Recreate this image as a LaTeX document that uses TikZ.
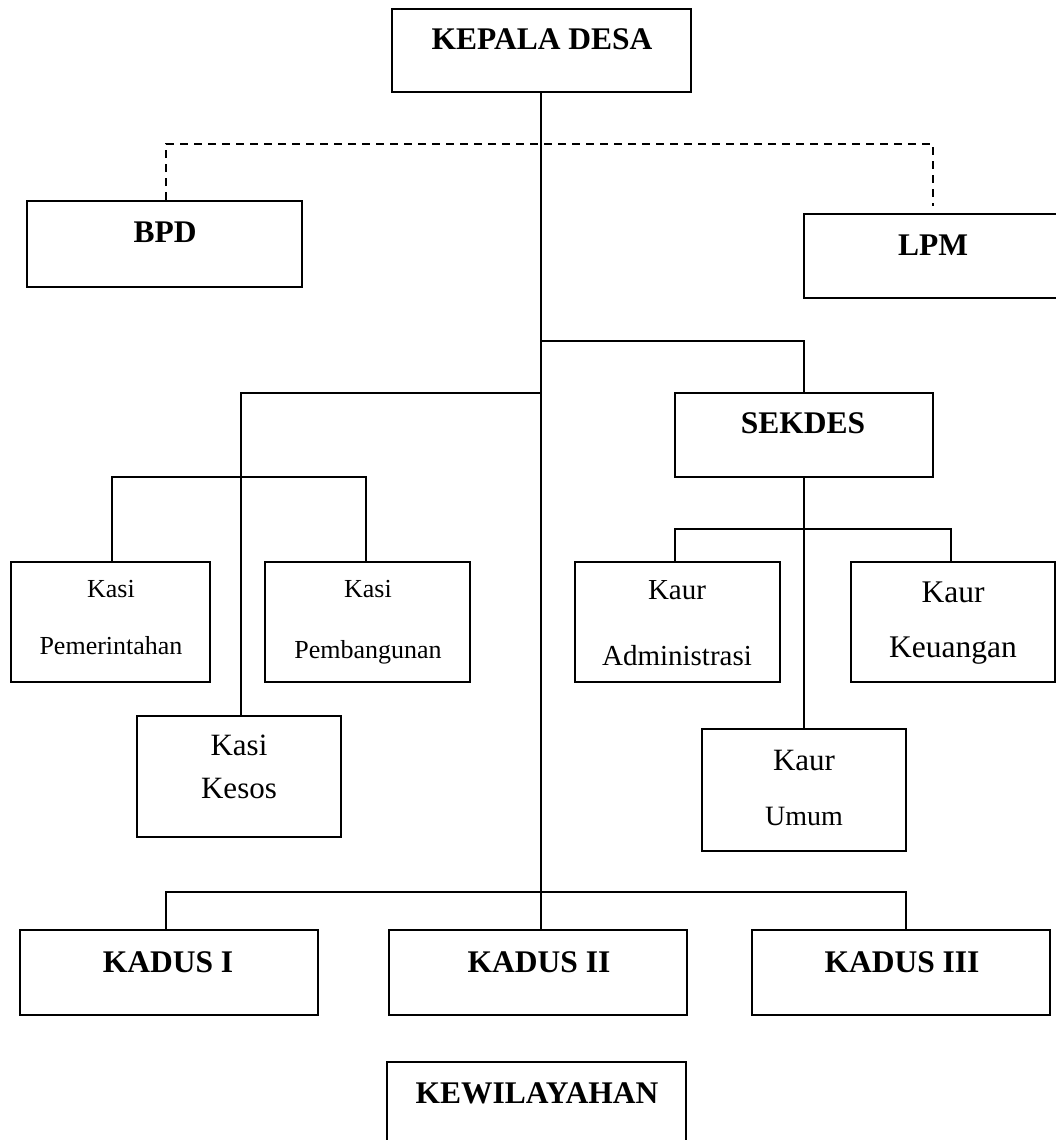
\documentclass[tikz,border=0pt]{standalone}
\usepackage{fontspec}
\setmainfont{Liberation Serif}
\begin{document}
\begin{tikzpicture}[x=1pt,y=-1pt,
  box/.style={draw=black,line width=2pt,rectangle,inner sep=0pt,fill=none},
  conn/.style={draw=black,line width=1.8pt},
  dashline/.style={draw=black,line width=1.8pt,dash pattern=on 8pt off 6pt},
  ttl/.style={anchor=base,inner sep=0pt,font=\fontsize{31.5}{36}\selectfont\bfseries},
  txt/.style={anchor=base,inner sep=0pt}]
\useasboundingbox (0,0) rectangle (1056,1140);
% boxes
\node[box,minimum width=299pt,minimum height=83pt] (kd) at (541,50.5) {};
\node[box,minimum width=275pt,minimum height=86pt] (bpd) at (164.5,244) {};
\node[box,minimum width=258pt,minimum height=84pt] (lpm) at (933,256) {};
\node[box,minimum width=258pt,minimum height=84pt] (sek) at (804,435) {};
\node[box,minimum width=199pt,minimum height=120pt] (kp) at (110.5,622) {};
\node[box,minimum width=205pt,minimum height=120pt] (kb) at (367.5,622) {};
\node[box,minimum width=204pt,minimum height=121pt] (kk) at (239,776.5) {};
\node[box,minimum width=205pt,minimum height=120pt] (ka) at (677.5,622) {};
\node[box,minimum width=204pt,minimum height=120pt] (ku) at (953,622) {};
\node[box,minimum width=204pt,minimum height=122pt] (kum) at (804,790) {};
\node[box,minimum width=298pt,minimum height=85pt] (k1) at (169,972.5) {};
\node[box,minimum width=298pt,minimum height=85pt] (k2) at (538,972.5) {};
\node[box,minimum width=298pt,minimum height=85pt] (k3) at (901,972.5) {};
\node[box,minimum width=299pt,minimum height=98pt] (kw) at (536.5,1111) {};
% texts
\node[ttl] (tkd) at (542,49) {KEPALA DESA};
\node[ttl] (tbpd) at (165,242) {BPD};
\node[ttl] (tlpm) at (933,255) {LPM};
\node[ttl] (tsek) at (803,433) {SEKDES};
\node[txt,font=\fontsize{26}{30}\selectfont] (tkp1) at (111,597) {Kasi};
\node[txt,font=\fontsize{26}{30}\selectfont] (tkp2) at (111,654) {Pemerintahan};
\node[txt,font=\fontsize{26}{30}\selectfont] (tkb1) at (368,597) {Kasi};
\node[txt,font=\fontsize{26}{30}\selectfont] (tkb2) at (368,658) {Pembangunan};
\node[txt,font=\fontsize{31}{36}\selectfont] (tkk1) at (239,755) {Kasi};
\node[txt,font=\fontsize{31}{36}\selectfont] (tkk2) at (239,798) {Kesos};
\node[txt,font=\fontsize{29}{34}\selectfont] (tka1) at (677,599) {Kaur};
\node[txt,font=\fontsize{29}{34}\selectfont] (tka2) at (677,665) {Administrasi};
\node[txt,font=\fontsize{31.5}{36}\selectfont] (tku1) at (953,602) {Kaur};
\node[txt,font=\fontsize{31.5}{36}\selectfont] (tku2) at (953,657) {Keuangan};
\node[txt,font=\fontsize{31}{36}\selectfont] (tkum1) at (804,770) {Kaur};
\node[txt,font=\fontsize{28}{32}\selectfont] (tkum2) at (804,825) {Umum};
\node[ttl] (tk1) at (168,972) {KADUS I};
\node[ttl] (tk2) at (539,972) {KADUS II};
\node[ttl] (tk3) at (902,972) {KADUS III};
\node[ttl] (tkw) at (537,1103) {KEWILAYAHAN};
% junction coordinates
\coordinate (jdash) at (541,144);
\coordinate (jsek) at (541,341);
\coordinate (jleft) at (541,393);
\coordinate (jkasi) at (241,477);
\coordinate (jkaur) at (804,529);
\coordinate (jkadus) at (541,892);
% connectors
\draw[conn] (kd.south) -- (kd.south |- k2.north);
\draw[dashline] ([xshift=1.5pt]bpd.north) |- (jdash) -| ([yshift=7pt]lpm.north);
\draw[conn] (jsek) -| (sek.north);
\draw[conn] (jleft) -| ([xshift=2pt]kk.north);
\draw[conn] ([xshift=1.5pt]kp.north) |- (jkasi) -| ([xshift=-1.5pt]kb.north);
\draw[conn] (sek.south) -- (kum.north);
\draw[conn] ([xshift=-2.5pt]ka.north) |- (jkaur) -| ([xshift=-2pt]ku.north);
\draw[conn] ([xshift=-3pt]k1.north) |- (jkadus) -| ([xshift=5pt]k3.north);
\end{tikzpicture}
\end{document}
